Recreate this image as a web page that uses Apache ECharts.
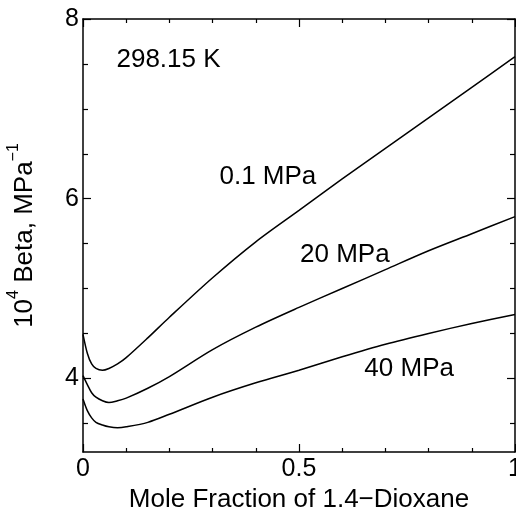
<!DOCTYPE html>
<html>
<head>
<meta charset="utf-8">
<script src="https://cdn.jsdelivr.net/npm/echarts@6/dist/echarts.min.js"></script>
<style>
html,body{margin:0;padding:0;background:#fff;}
#c{width:516px;height:515px;}
</style>
</head>
<body>
<div id="c"></div>
<script>
// Mole fraction of 1,4-dioxane
const xValues = [0, 0.01, 0.02, 0.03, 0.045, 0.06, 0.08, 0.1, 0.15, 0.2, 0.3, 0.4, 0.5, 0.6, 0.7, 0.8, 0.9, 1.0];
// 10^4 Beta (MPa^-1)
const beta01MPa = [4.49, 4.28, 4.16, 4.11, 4.09, 4.11, 4.16, 4.23, 4.45, 4.68, 5.12, 5.52, 5.87, 6.22, 6.56, 6.90, 7.24, 7.58];
const beta20MPa = [4.03, 3.93, 3.84, 3.79, 3.75, 3.73, 3.75, 3.78, 3.89, 4.02, 4.32, 4.57, 4.79, 5.00, 5.21, 5.42, 5.61, 5.80];
const beta40MPa = [3.77, 3.64, 3.56, 3.51, 3.48, 3.46, 3.45, 3.46, 3.51, 3.60, 3.79, 3.95, 4.09, 4.24, 4.38, 4.50, 4.61, 4.71];
// annotation texts and their data positions
const annTexts = ['298.15 K', '0.1 MPa', '20 MPa', '40 MPa'];
const annX = [0.198, 0.428, 0.606, 0.755];
const annY = [7.55, 6.24, 5.38, 4.11];
// ticks
const yLabelTicks = [4, 6, 8];
const yMinorTicks = [3.5, 4.5, 5, 5.5, 6.5, 7, 7.5];
const xMin = 0, xMax = 1, yMin = 3.18, yMax = 8;

const FONT = '"Liberation Sans", Arial, Helvetica, sans-serif';
const chart = echarts.init(document.getElementById('c'), null, {renderer: 'canvas'});

const lineStyle = {color: '#000', width: 1.5};
function xAx(pos, showLabels) {
  return {
    type: 'value', position: pos, min: xMin, max: xMax, interval: 0.5,
    axisLine: {show: true, lineStyle: lineStyle},
    axisTick: {show: true, inside: true, length: 8, lineStyle: {color: '#000', width: 1.2}},
    minorTick: {show: true, splitNumber: 5, length: 4, lineStyle: {color: '#000', width: 1.2}},
    splitLine: {show: false}, minorSplitLine: {show: false},
    axisLabel: {show: showLabels, color: '#000', fontSize: 25, fontFamily: FONT, margin: 5},
    name: showLabels ? 'Mole Fraction of 1.4\u2212Dioxane' : '',
    nameLocation: 'middle', nameGap: 27,
    nameTextStyle: {color: '#000', fontSize: 26, fontFamily: FONT}
  };
}
function yAx(pos, ticks, len, showLabels, showLine, withName) {
  const a = {
    type: 'value', position: pos, min: yMin, max: yMax,
    axisLine: {show: showLine, lineStyle: lineStyle},
    axisTick: {show: true, inside: true, length: len, customValues: ticks, lineStyle: {color: '#000', width: 1.2}},
    splitLine: {show: false},
    axisLabel: {show: showLabels, customValues: yLabelTicks, color: '#000', fontSize: 25, fontFamily: FONT, margin: 4}
  };
  if (withName) {
    a.name = '{b|10}{s|4}{b| Beta, MPa}{s|\u22121}';
    a.nameLocation = 'middle';
    a.nameGap = 45;
    a.nameRotate = 90;
    a.nameTextStyle = {
      color: '#000', fontFamily: FONT,
      rich: {
        b: {fontSize: 26, fontFamily: FONT, color: '#000', verticalAlign: 'bottom', lineHeight: 32},
        s: {fontSize: 16, fontFamily: FONT, color: '#000', verticalAlign: 'top', lineHeight: 32}
      }
    };
  }
  return a;
}

function pairs(ys) { return xValues.map((x, i) => [x, ys[i]]); }
function lineSeries(name, ys) {
  return {
    name: name, type: 'line', data: pairs(ys), xAxisIndex: 0, yAxisIndex: 0,
    showSymbol: false, smooth: 0.3, lineStyle: {color: '#000', width: 1.5},
    silent: true, animation: false
  };
}

chart.setOption({
  animation: false,
  backgroundColor: '#fff',
  grid: {left: 83, right: 1, top: 19, bottom: 63, containLabel: false, outerBoundsMode: 'none'},
  xAxis: [xAx('bottom', true), xAx('top', false)],
  yAxis: [
    yAx('left', yLabelTicks, 8, true, true, true),
    yAx('left', yMinorTicks, 5, false, false, false),
    yAx('right', yLabelTicks, 8, false, true, false),
    yAx('right', yMinorTicks, 5, false, false, false)
  ],
  series: [
    lineSeries('0.1 MPa', beta01MPa),
    lineSeries('20 MPa', beta20MPa),
    lineSeries('40 MPa', beta40MPa),
    {
      type: 'scatter', xAxisIndex: 0, yAxisIndex: 0, symbolSize: 0, silent: true,
      itemStyle: {opacity: 1},
      data: annTexts.map((t, i) => [annX[i], annY[i], t]),
      label: {
        show: true, position: 'inside', color: '#000', opacity: 1, fontSize: 26, fontFamily: FONT,
        textBorderWidth: 0,
        formatter: p => p.data[2]
      }
    }
  ]
});
</script>
</body>
</html>
